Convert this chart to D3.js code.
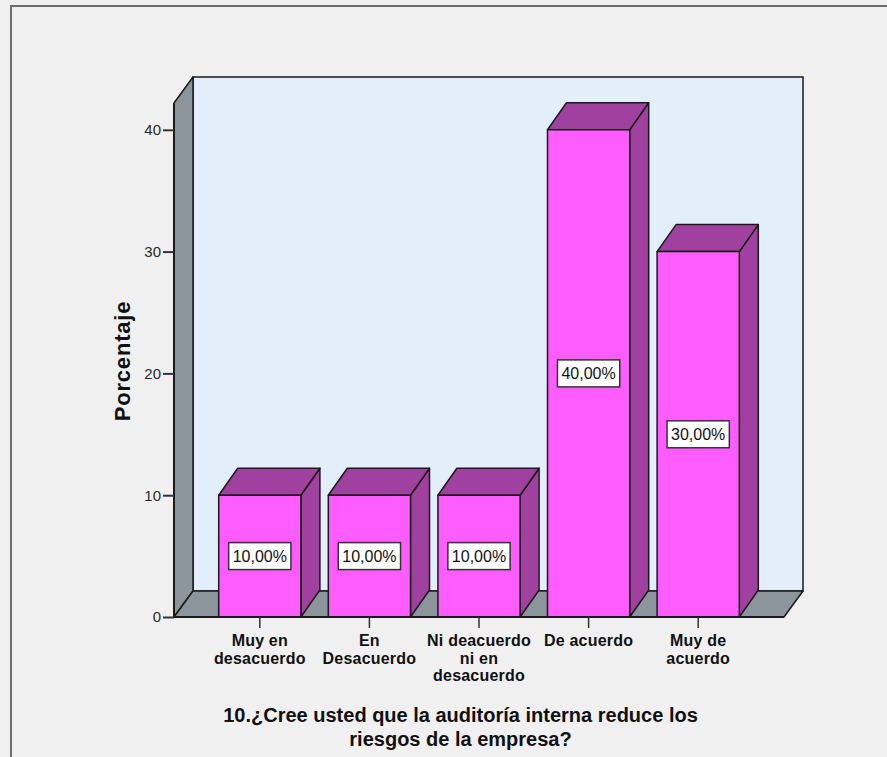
<!DOCTYPE html>
<html>
<head>
<meta charset="utf-8">
<script src="https://cdn.jsdelivr.net/npm/d3@7"></script>
<style>
  html, body { margin: 0; padding: 0; background: #f0f0f0; }
  svg { display: block; }
  text { font-family: "Liberation Sans", Arial, sans-serif; }
</style>
</head>
<body>
<svg id="chart" width="887" height="757"></svg>
<script>
// ---- data ----
const categories = ["Muy en desacuerdo", "En Desacuerdo", "Ni deacuerdo ni en desacuerdo", "De acuerdo", "Muy de acuerdo"];
const categoryLines = [["Muy en", "desacuerdo"], ["En", "Desacuerdo"], ["Ni deacuerdo", "ni en", "desacuerdo"], ["De acuerdo"], ["Muy de", "acuerdo"]];
const values = [10, 10, 10, 40, 30];
const yTicks = [0, 10, 20, 30, 40];
const yTitle = "Porcentaje";
const xTitleLines = ["10.¿Cree usted que la auditoría interna reduce los", "riesgos de la empresa?"];

// ---- layout ----
const svg = d3.select("#chart");
const W = 887, H = 757;
const dx = 19, dy = 26, bdy = 27;
const y0 = 617, yTop = 103, xL = 174, xR = 784;

const y = d3.scaleLinear().domain([0, 42.2]).range([y0, yTop]);
const x = d3.scaleBand().domain(categories).range([205, 753]).paddingInner(0.25).paddingOuter(0.125);

const stroke = "#1a1a1a";
const frontCol = "#ff5cff", darkCol = "#a0409f";
const wallCol = "#e2eefa", sideCol = "#8c949c";

// outer frame (top & left)
svg.append("path").attr("d", `M11,${H} L11,6 L${W},6`).attr("fill", "none").attr("stroke", "#6e6e6e").attr("stroke-width", 2);

// back wall
svg.append("rect").attr("x", xL + dx).attr("y", yTop - dy).attr("width", xR - xL).attr("height", y0 - yTop)
  .attr("fill", wallCol).attr("stroke", stroke).attr("stroke-width", 1.5);
// left side wall
svg.append("polygon").attr("points", [[xL, yTop], [xL + dx, yTop - dy], [xL + dx, y0 - dy], [xL, y0]].join(" "))
  .attr("fill", sideCol).attr("stroke", stroke).attr("stroke-width", 1.5).attr("stroke-linejoin", "round");
// floor
svg.append("polygon").attr("points", [[xL, y0], [xL + dx, y0 - dy], [xR + dx, y0 - dy], [xR, y0]].join(" "))
  .attr("fill", sideCol).attr("stroke", stroke).attr("stroke-width", 1.5).attr("stroke-linejoin", "round");

// bars
const bars = svg.append("g");
categories.forEach((c, i) => {
  const x0 = x(c), x1 = x(c) + x.bandwidth(), yt = y(values[i]);
  const g = bars.append("g").attr("stroke", stroke).attr("stroke-width", 1.5).attr("stroke-linejoin", "round");
  g.append("polygon").attr("points", [[x1, yt], [x1 + dx, yt - bdy], [x1 + dx, y0 - bdy], [x1, y0]].join(" ")).attr("fill", darkCol);
  g.append("polygon").attr("points", [[x0, yt], [x0 + dx, yt - bdy], [x1 + dx, yt - bdy], [x1, yt]].join(" ")).attr("fill", darkCol);
  g.append("rect").attr("x", x0).attr("y", yt).attr("width", x1 - x0).attr("height", y0 - yt).attr("fill", frontCol);
});

// front axis lines
svg.append("line").attr("x1", xL).attr("x2", xL).attr("y1", yTop).attr("y2", y0).attr("stroke", stroke).attr("stroke-width", 2);
svg.append("line").attr("x1", xL).attr("x2", xR).attr("y1", y0).attr("y2", y0).attr("stroke", stroke).attr("stroke-width", 2);

// y axis
const yAxis = d3.axisLeft(y).tickValues(yTicks).tickSize(11).tickPadding(2).tickFormat(d3.format("d"));
const gy = svg.append("g").attr("transform", `translate(${xL},0)`).call(yAxis);
gy.select(".domain").remove();
gy.selectAll(".tick line").attr("stroke", "#333").attr("stroke-width", 2);
gy.selectAll(".tick text").attr("font-size", 15).attr("fill", "#2a2a2a").attr("font-family", "Liberation Sans, Arial, sans-serif");

// x axis
const xAxis = d3.axisBottom(x).tickSize(10).tickFormat("");
const gx = svg.append("g").attr("transform", `translate(0,${y0 + 1})`).call(xAxis);
gx.select(".domain").remove();
gx.selectAll(".tick line").attr("stroke", "#333").attr("stroke-width", 1.5);
categories.forEach((c, i) => {
  const t = svg.append("text").attr("x", x(c) + x.bandwidth() / 2).attr("y", 646)
    .attr("text-anchor", "middle").attr("font-size", 16).attr("font-weight", "bold").attr("fill", "#111")
    .attr("letter-spacing", 0.2);
  categoryLines[i].forEach((ln, k) => {
    t.append("tspan").attr("x", x(c) + x.bandwidth() / 2).attr("dy", k === 0 ? 0 : 17.5).text(ln);
  });
});

// value labels
categories.forEach((c, i) => {
  const cx = x(c) + x.bandwidth() / 2, cy = (y(values[i]) + y0) / 2;
  const g = svg.append("g");
  const txt = g.append("text").attr("x", cx).attr("y", cy).attr("dy", "0.36em").attr("text-anchor", "middle")
    .attr("font-size", 16).attr("fill", "#111").text(values[i].toFixed(2).replace(".", ",") + "%");
  const bb = txt.node().getBBox();
  g.insert("rect", "text").attr("x", cx - (bb.width + 8) / 2).attr("y", cy - 13.5).attr("width", bb.width + 8).attr("height", 27)
    .attr("fill", "#fff").attr("stroke", "#333").attr("stroke-width", 1.5);
});

// y title
svg.append("text").attr("transform", `translate(130,361) rotate(-90)`).attr("text-anchor", "middle")
  .attr("font-size", 22).attr("font-weight", "bold").attr("fill", "#111").attr("letter-spacing", 0.8).text(yTitle);

// x title
xTitleLines.forEach((ln, k) => {
  svg.append("text").attr("x", 460.5).attr("y", 722 + k * 24).attr("text-anchor", "middle")
    .attr("font-size", 20).attr("font-weight", "bold").attr("fill", "#111").text(ln);
});
</script>
</body>
</html>
